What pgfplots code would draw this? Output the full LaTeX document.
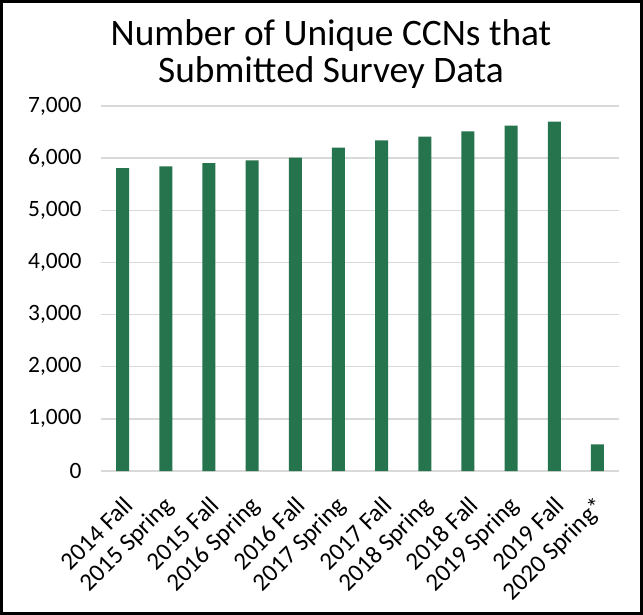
\documentclass[border=0pt]{standalone}
\usepackage{fontspec}
\setmainfont{Carlito}
\usepackage{graphicx}
\usepackage{pgfplots}
\pgfplotsset{compat=1.18}
\definecolor{bargreen}{RGB}{38,116,78}
\definecolor{gridgray}{RGB}{217,217,217}
\newcommand{\rl}[1]{\rotatebox{45}{#1}}
\begin{document}
\begin{tikzpicture}
\useasboundingbox (0bp,0bp) rectangle (643bp,615bp);
\draw[line width=3bp] (1.5bp,1.5bp) rectangle (641.5bp,613.5bp);
\node[font=\fontsize{37.5}{40}\selectfont, anchor=base, inner sep=0pt] at (331bp,569bp) {Number of Unique CCNs that};
\node[font=\fontsize{37.5}{40}\selectfont, anchor=base, inner sep=0pt] at (331bp,532bp) {Submitted Survey Data};
\begin{axis}[
  at={(101bp,144bp)}, anchor=south west,
  scale only axis, width=518bp, height=365bp,
  xmin=-0.5, xmax=11.5, ymin=0, ymax=7000,
  ytick={0,1000,...,7000},
  xtick={0,...,11},
  xticklabels={\rl{2014 Fall},\rl{2015 Spring},\rl{2015 Fall},\rl{2016 Spring},\rl{2016 Fall},\rl{2017 Spring},\rl{2017 Fall},\rl{2018 Spring},\rl{2018 Fall},\rl{2019 Spring},\rl{2019 Fall},\rl{2020 Spring*}},
  ymajorgrids,
  grid style={gridgray, line width=1.5bp},
  axis line style={draw=none},
  major tick length=0pt,
  scaled y ticks=false,
  /pgf/number format/.cd, 1000 sep={,}, assume math mode=true,
  /pgfplots/.cd,
  yticklabel style={font=\fontsize{23.5}{27}\selectfont, xshift=-16bp},
  xticklabel style={font=\fontsize{25}{29}\selectfont, anchor=north east, inner sep=0pt, yshift=-24bp, xshift=12bp},
  clip=false,
]
\addplot[ybar, bar width=13bp, fill=bargreen, draw=none] coordinates {
(0,5810) (1,5842) (2,5906) (3,5958) (4,6008) (5,6200) (6,6342) (7,6411) (8,6514) (9,6622) (10,6699) (11,512)
};
\end{axis}
\end{tikzpicture}
\end{document}
